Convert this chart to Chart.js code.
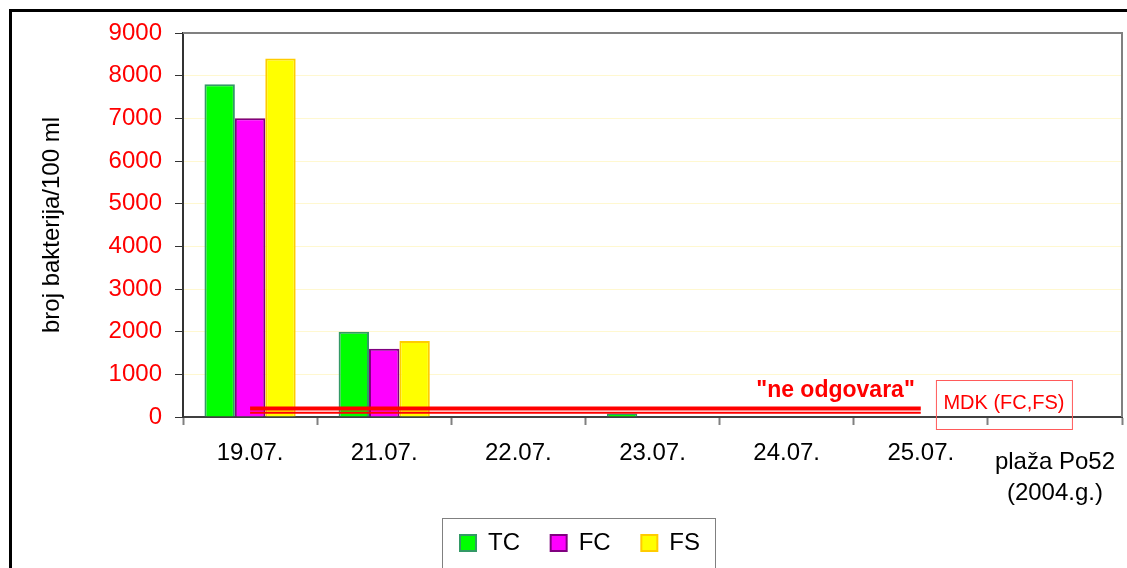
<!DOCTYPE html>
<html lang="hr">
<head>
<meta charset="utf-8">
<title>plaža Po52 (2004.g.)</title>
<script src="https://cdn.jsdelivr.net/npm/chart.js@4.4.1/dist/chart.umd.min.js"></script>
<style>
    html, body { margin: 0; padding: 0; background: #fff; overflow: hidden; }
    #frame {
        position: absolute; left: 9px; top: 9px; width: 1200px; height: 700px;
        border-top: 3px solid #000; border-left: 3px solid #000;
    }
    #wrap { position: absolute; left: 0; top: 0; width: 1127px; height: 568px; }
</style>
</head>
<body>
<div id="frame"></div>
<div id="wrap"><canvas id="bakterije" width="1127" height="568"></canvas></div>
<script>
// Podaci očitani sa slike
const categories = ['19.07.', '21.07.', '22.07.', '23.07.', '24.07.', '25.07.', ['plaža Po52', '(2004.g.)']];
const tcValues = [7800, 2000, null, 80, null, null, null];
const fcValues = [7000, 1600, null, null, null, null, null];
const fsValues = [8400, 1780, null, null, null, null, null];
// MDK granice (crvene linije)
const mdkFc = [200, 200, 200, 200, 200, 200, null];
const mdkFs = [100, 100, 100, 100, 100, 100, null];
const yMin = 0;
const yMax = 9000;
const yStep = 500;

document.addEventListener('DOMContentLoaded', () => {
    const FONT = "'Liberation Sans', Arial, sans-serif";
    const ctx = document.getElementById('bakterije').getContext('2d');

    // okvir područja crtanja (gore i desno) + legenda u okviru + natpisi
    const extras = {
        id: 'extras',
        beforeDatasetsDraw(chart) {
            const { ctx, chartArea: a } = chart;
            ctx.save();
            ctx.strokeStyle = '#808080';
            ctx.lineWidth = 2;
            ctx.beginPath();
            ctx.moveTo(a.left, a.top);
            ctx.lineTo(a.right, a.top);
            ctx.lineTo(a.right, a.bottom);
            ctx.stroke();
            ctx.restore();
        },
        afterDraw(chart) {
            const { ctx } = chart;
            const x = chart.scales.x;
            const y = chart.scales.y;
            ctx.save();

            // "ne odgovara"
            ctx.fillStyle = '#ff0000';
            ctx.font = `bold 23px ${FONT}`;
            ctx.textAlign = 'right';
            ctx.textBaseline = 'alphabetic';
            ctx.fillText('"ne odgovara"', x.getPixelForValue(5) - 6, y.getPixelForValue(200) - 11);

            // MDK (FC,FS) u okviru
            const bx = x.getPixelForValue(6) - 119;
            const by = y.getPixelForValue(0) - 37;
            ctx.strokeStyle = '#ff5a5a';
            ctx.lineWidth = 1;
            ctx.strokeRect(bx + 0.5, by + 0.5, 136, 49);
            ctx.font = `20px ${FONT}`;
            ctx.textAlign = 'center';
            ctx.textBaseline = 'middle';
            ctx.fillText('MDK (FC,FS)', bx + 68, by + 23);

            // okvir legende
            const boxes = chart.legend.legendHitBoxes;
            if (boxes && boxes.length) {
                const left = Math.min(...boxes.map(b => b.left)) - 18;
                const right = Math.max(...boxes.map(b => b.left + b.width)) + 15;
                const top = boxes[0].top - 13;
                ctx.strokeStyle = '#808080';
                ctx.lineWidth = 1;
                ctx.strokeRect(left + 0.5, top + 0.5, right - left, chart.height - top + 5);
            }
            ctx.restore();
        }
    };

    new Chart(ctx, {
        data: {
            labels: categories,
            datasets: [
                { type: 'line', label: 'MDK FC', data: mdkFc, borderColor: '#ff0000', borderWidth: 4,
                  pointRadius: 0, order: 0, borderCapStyle: 'butt' },
                { type: 'line', label: 'MDK FS', data: mdkFs, borderColor: '#ff0000', borderWidth: 2,
                  pointRadius: 0, order: 0, borderCapStyle: 'butt' },
                { type: 'bar', label: 'TC', data: tcValues, backgroundColor: '#00ff00', borderColor: '#339966',
                  borderWidth: 2, borderSkipped: 'start', order: 1 },
                { type: 'bar', label: 'FC', data: fcValues, backgroundColor: '#ff00ff', borderColor: '#800080',
                  borderWidth: 2, borderSkipped: 'start', order: 1 },
                { type: 'bar', label: 'FS', data: fsValues, backgroundColor: '#ffff00', borderColor: '#ffcc00',
                  borderWidth: 2, borderSkipped: 'start', order: 1 }
            ]
        },
        options: {
            responsive: false,
            maintainAspectRatio: false,
            animation: false,
            devicePixelRatio: 1,
            layout: { padding: { left: 38, top: 33, right: 5, bottom: 3 } },
            datasets: { bar: { categoryPercentage: 0.68, barPercentage: 1 } },
            scales: {
                x: {
                    offset: true,
                    grid: { offset: true, drawOnChartArea: false, tickLength: 8, tickColor: '#808080', tickWidth: 2 },
                    border: { color: '#404040', width: 2 },
                    ticks: {
                        color: '#000',
                        padding: 22,
                        maxRotation: 0,
                        autoSkip: false,
                        // zadnja oznaka ima dva reda i spuštena je niže
                        font: (c) => ({ size: 24, family: FONT, lineHeight: c.index === 6 ? 31 / 24 : 12 / 24 })
                    },
                    afterFit(scale) {
                        scale.height = 90;
                        scale.paddingLeft = 0;
                        scale.paddingRight = 0;
                    }
                },
                y: {
                    min: yMin,
                    max: yMax,
                    grid: {
                        color: (c) => (c.tick && c.tick.value % 1000 === 0 ? '#fff8d0' : 'rgba(0,0,0,0)'),
                        tickColor: '#333',
                        tickLength: 8
                    },
                    border: { color: '#333', width: 2 },
                    ticks: {
                        stepSize: yStep,
                        color: '#ff0000',
                        padding: 13,
                        font: { size: 24, family: FONT },
                        callback: (v) => (v % 1000 === 0 ? String(v) : '')
                    },
                    title: {
                        display: true,
                        text: 'broj bakterija/100 ml',
                        color: '#000',
                        font: { size: 24, family: FONT },
                        padding: { top: 0, bottom: 0 }
                    },
                    afterFit(scale) { scale.width = 145; }
                }
            },
            plugins: {
                legend: {
                    position: 'bottom',
                    labels: {
                        boxWidth: 16,
                        boxHeight: 16,
                        padding: 24,
                        color: '#000',
                        font: { size: 24, family: FONT },
                        filter: (item) => ['TC', 'FC', 'FS'].includes(item.text.trim()),
                        // razmak između stavki legende kao na slici
                        generateLabels: (chart) => Chart.defaults.plugins.legend.labels.generateLabels(chart)
                            .map(item => (item.text === 'FS' ? item : { ...item, text: item.text + ' ' }))
                    }
                },
                tooltip: { enabled: false }
            }
        },
        plugins: [extras]
    });
});
</script>
</body>
</html>
